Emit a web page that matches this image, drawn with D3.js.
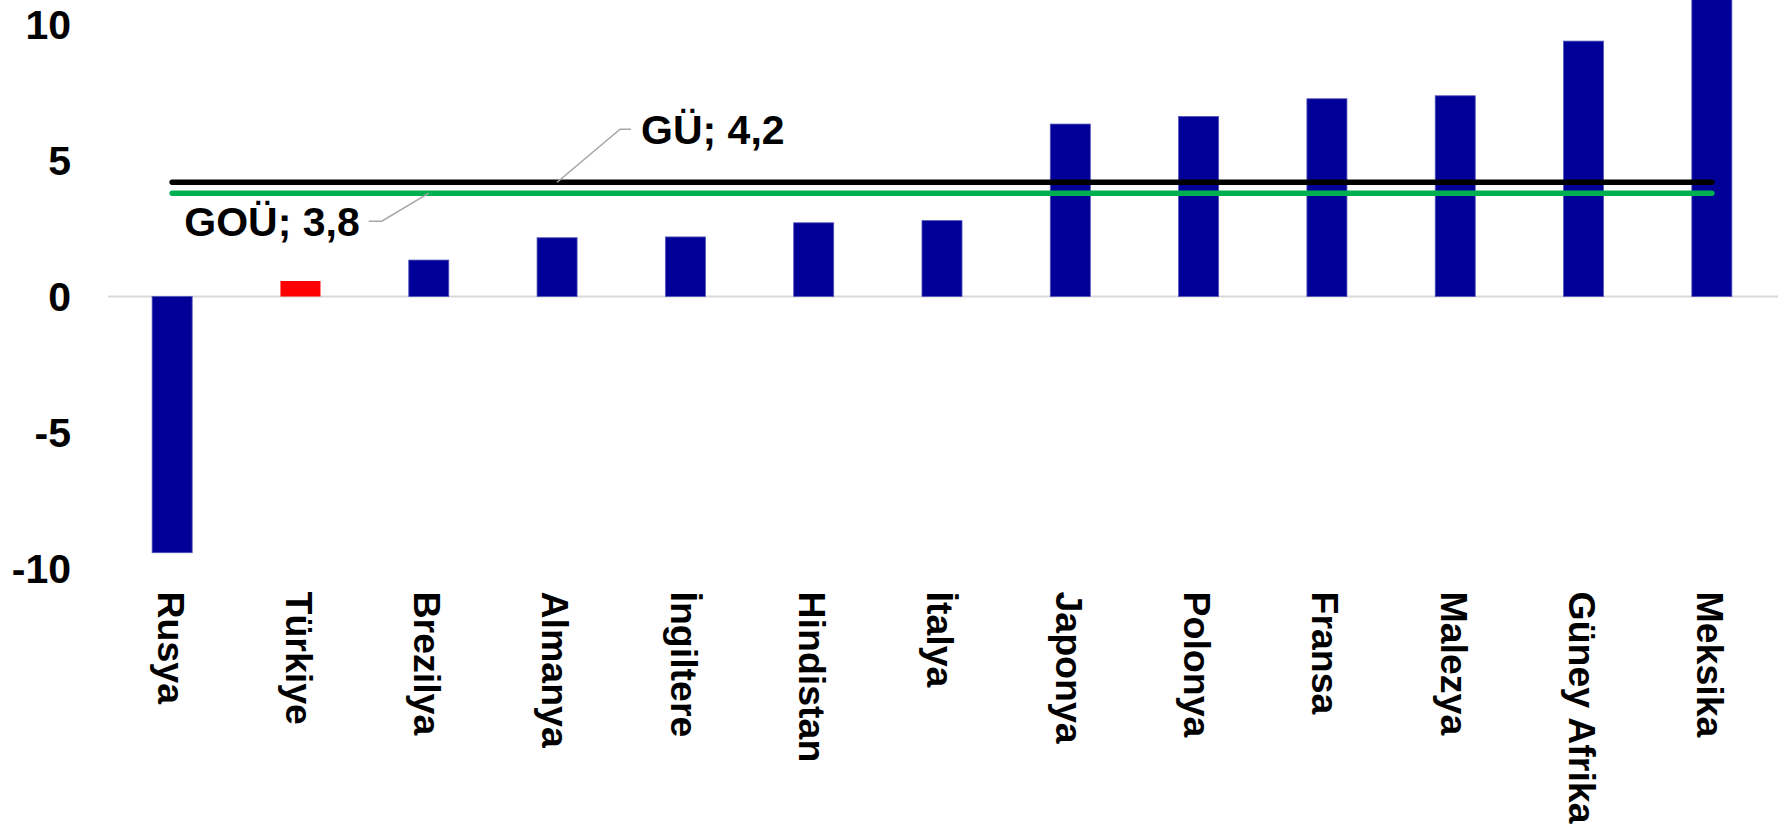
<!DOCTYPE html>
<html>
<head>
<meta charset="utf-8">
<script src="https://cdn.jsdelivr.net/npm/d3@7"></script>
<style>
  body { margin: 0; background: #fff; }
  text { font-family: "Liberation Sans", Arial, sans-serif; font-weight: bold; }
</style>
</head>
<body>
<div id="wrapper"></div>
<script>
const countries = ["Rusya", "Türkiye", "Brezilya", "Almanya", "İngiltere", "Hindistan", "İtalya",
  "Japonya", "Polonya", "Fransa", "Malezya", "Güney Afrika", "Meksika"]
const growth = [-9.42, 0.57, 1.34, 2.16, 2.19, 2.71, 2.79, 6.34, 6.62, 7.27, 7.38, 9.39, 11.5]
const yTicks = [-10, -5, 0, 5, 10]
// reference averages: label, value, category where the callout points
const refNames = ["GÜ", "GOÜ"]
const refValues = [4.2, 3.8]
const refAnchors = ["Almanya", "Brezilya"]

const width = 1785
const height = 826

const svg = d3.select("#wrapper")
  .append("svg")
  .attr("width", width)
  .attr("height", height)

const x = d3.scaleBand()
  .domain(countries)
  .range([108, 1776])
  .paddingInner(0.688)
  .paddingOuter(0.344)

const y = d3.scaleLinear()
  .domain([-10, 10])
  .range([568.5, 24.5])

// y tick labels (no axis line)
svg.append("g")
  .selectAll("text")
  .data(yTicks)
  .join("text")
  .attr("x", 71)
  .attr("y", d => y(d))
  .attr("dy", "0.36em")
  .attr("text-anchor", "end")
  .attr("font-size", 41)
  .text(d => String(d))

// zero line
svg.append("line")
  .attr("x1", 108)
  .attr("x2", 1778)
  .attr("y1", y(0))
  .attr("y2", y(0))
  .attr("stroke", "#d9d9d9")
  .attr("stroke-width", 2)

// bars
svg.append("g")
  .selectAll("rect")
  .data(countries)
  .join("rect")
  .attr("x", d => x(d))
  .attr("width", x.bandwidth())
  .attr("y", (d, i) => y(Math.max(0, growth[i])))
  .attr("height", (d, i) => Math.abs(y(growth[i]) - y(0)))
  .attr("fill", d => d == "Türkiye" ? "#ff0000" : "#000099")
  .attr("stroke", d => d == "Türkiye" ? "none" : "#5555bb")
  .attr("stroke-width", 0.8)

// category labels, rotated, sitting below the -10 level
svg.append("g")
  .selectAll("text")
  .data(countries)
  .join("text")
  .attr("transform", d => `translate(${x(d) + x.bandwidth() / 2},${y(-10) + 23}) rotate(90)`)
  .attr("dy", "0.39em")
  .attr("font-size", 37.5)
  .text(d => d)

// average lines
const first = countries[0], last = countries[countries.length - 1]
const lineColors = ["#000000", "#00b050"]
svg.append("g")
  .selectAll("line")
  .data(refValues)
  .join("line")
  .attr("x1", x(first) + x.bandwidth() / 2)
  .attr("x2", x(last) + x.bandwidth() / 2)
  .attr("y1", d => y(d))
  .attr("y2", d => y(d))
  .attr("stroke", (d, i) => lineColors[i])
  .attr("stroke-width", 5.5)
  .attr("stroke-linecap", "round")

// callouts
const fmt = v => v.toFixed(1).replace(".", ",")
const callouts = [
  { dx: 63, dy: -53, side: "right" },
  { dx: -47, dy: 28, side: "left" }
]
callouts.forEach((c, i) => {
  const ax = x(refAnchors[i]) + x.bandwidth() / 2
  const ay = y(refValues[i])
  const bx = ax + c.dx
  const by = ay + c.dy
  const cx = c.side == "right" ? bx + 11 : bx - 13
  svg.append("path")
    .attr("d", `M${ax},${ay}L${bx},${by}L${cx},${by}`)
    .attr("fill", "none")
    .attr("stroke", "#a6a6a6")
    .attr("stroke-width", 1.5)
  svg.append("text")
    .attr("x", c.side == "right" ? cx + 10 : cx - 9)
    .attr("y", by)
    .attr("dy", "0.36em")
    .attr("text-anchor", c.side == "right" ? "start" : "end")
    .attr("font-size", 41)
    .text(`${refNames[i]}; ${fmt(refValues[i])}`)
})
</script>
</body>
</html>
